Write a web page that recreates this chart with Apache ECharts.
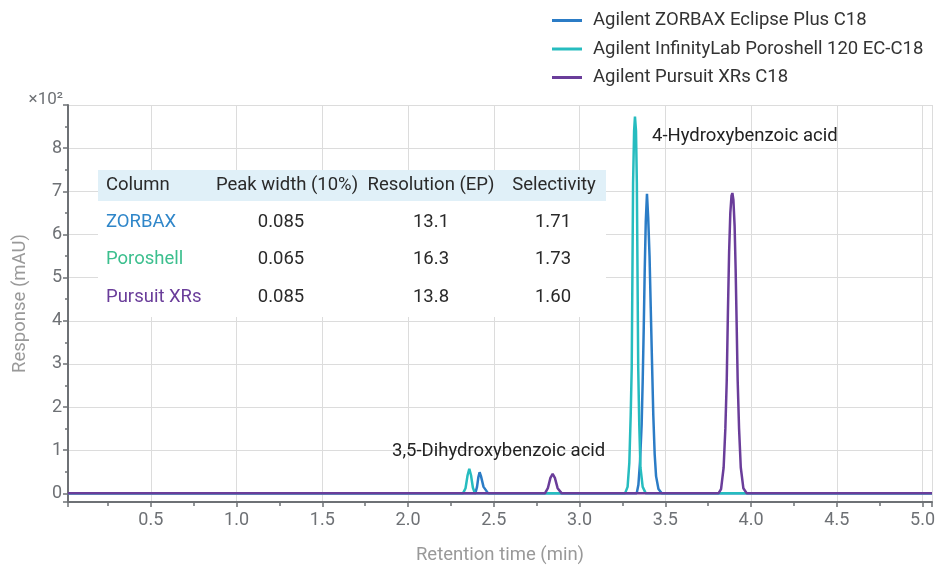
<!DOCTYPE html>
<html>
<head>
<meta charset="utf-8">
<script src="https://cdn.jsdelivr.net/npm/echarts@6/dist/echarts.min.js"></script>
<style>
  html, body { margin: 0; padding: 0; background: #fff; }
  #main { width: 937px; height: 565px; }
</style>
</head>
<body>
<div id="main"></div>
<script>
// 色谱数据 [保留时间 min, 响应 x10^2 mAU]
var seriesNames = ['Agilent ZORBAX Eclipse Plus C18', 'Agilent InfinityLab Poroshell 120 EC-C18', 'Agilent Pursuit XRs C18'];
var seriesColors = ['#2b7cc6', '#26bcbf', '#6a3d9a'];

var zorbaxPoints = [
    [0.017, 0], [2.392, 0], [2.402, 0.15], [2.41, 0.38], [2.417, 0.49], [2.425, 0.4], [2.44, 0.15], [2.467, 0],
    [3.333, 0], [3.343, 0.2], [3.352, 0.7], [3.362, 1.6], [3.368, 2.6], [3.374, 3.8], [3.38, 5.2], [3.386, 6.3],
    [3.393, 6.94], [3.4, 6.4], [3.408, 5.5], [3.415, 4.3], [3.422, 3.1], [3.43, 1.8], [3.438, 0.9], [3.446, 0.4],
    [3.46, 0.1], [3.479, 0], [5.055, 0]
];
var poroshellPoints = [
    [0.017, 0], [2.32, 0], [2.335, 0.12], [2.347, 0.42], [2.357, 0.57], [2.367, 0.42], [2.378, 0.13], [2.39, 0],
    [3.265, 0], [3.28, 0.15], [3.29, 0.7], [3.298, 1.8], [3.304, 2.9], [3.308, 5.0], [3.312, 7.2], [3.318, 8.4],
    [3.323, 8.73], [3.329, 8.4], [3.334, 7.2], [3.338, 5.0], [3.342, 2.9], [3.348, 1.6], [3.355, 0.6], [3.368, 0.15],
    [3.386, 0], [5.055, 0]
];
var pursuitPoints = [
    [0.017, 0], [2.798, 0], [2.815, 0.12], [2.83, 0.36], [2.843, 0.45], [2.856, 0.36], [2.872, 0.12], [2.896, 0],
    [3.81, 0], [3.825, 0.1], [3.84, 0.6], [3.85, 1.5], [3.858, 2.6], [3.865, 4.2], [3.872, 5.6], [3.879, 6.5],
    [3.886, 6.9], [3.891, 6.96], [3.897, 6.8], [3.904, 6.2], [3.91, 5.2], [3.916, 3.9], [3.922, 2.6], [3.93, 1.5],
    [3.94, 0.6], [3.955, 0.12], [3.975, 0], [5.055, 0]
];

// 表格
var tableHeader = ['Column', 'Peak width (10%)', 'Resolution (EP)', 'Selectivity'];
var tableColumns = ['ZORBAX', 'Poroshell', 'Pursuit XRs'];
var tablePeakWidth = ['0.085', '0.065', '0.085'];
var tableResolution = ['13.1', '16.3', '13.8'];
var tableSelectivity = ['1.71', '1.73', '1.60'];
var tableNameColors = ['#2f86c9', '#3cbf8e', '#6a3d9a'];

var peakLabels = ['4-Hydroxybenzoic acid', '3,5-Dihydroxybenzoic acid'];

var FONT = 'Roboto';
var axisGray = '#6e7175';

var myChart = echarts.init(document.getElementById('main'), null, { renderer: 'canvas' });

// 表格图形
var graphics = [];
var tx = 98, ty = 170, tw = 508;
graphics.push({ type: 'rect', z: 5, shape: { x: tx, y: ty, width: tw, height: 147 }, style: { fill: '#ffffff' } });
graphics.push({ type: 'rect', z: 6, shape: { x: tx, y: ty, width: tw, height: 31 }, style: { fill: '#e0f0f8' } });
var headX = [106, 287, 431, 554];
var cellX = [106, 281, 431, 553];
var colAlign = ['left', 'center', 'center', 'center'];
for (var c = 0; c < tableHeader.length; c++) {
    graphics.push({
        type: 'text', z: 7, x: headX[c], y: 185,
        style: { text: tableHeader[c], font: '18.5px ' + FONT, fill: '#2a2a2a', align: colAlign[c], verticalAlign: 'middle' }
    });
}
for (var r = 0; r < tableColumns.length; r++) {
    var yy = 222 + r * 37.5;
    var cells = [tableColumns[r], tablePeakWidth[r], tableResolution[r], tableSelectivity[r]];
    for (var c = 0; c < cells.length; c++) {
        graphics.push({
            type: 'text', z: 7, x: cellX[c], y: yy,
            style: { text: cells[c], font: '18.5px ' + FONT, fill: c == 0 ? tableNameColors[r] : '#2a2a2a', align: colAlign[c], verticalAlign: 'middle' }
        });
    }
}
// 峰标注
graphics.push({ type: 'text', z: 7, x: 652, y: 136, style: { text: peakLabels[0], font: '18.5px ' + FONT, fill: '#222', align: 'left', verticalAlign: 'middle' } });
graphics.push({ type: 'text', z: 7, x: 392, y: 451, style: { text: peakLabels[1], font: '18.5px ' + FONT, fill: '#222', align: 'left', verticalAlign: 'middle' } });
// 指数
graphics.push({ type: 'text', z: 7, x: 63, y: 100, style: { text: '×10²', font: '17px ' + FONT, fill: axisGray, align: 'right', verticalAlign: 'middle' } });

var allPoints = [zorbaxPoints, poroshellPoints, pursuitPoints];
var series = [];
for (var i = 0; i < seriesNames.length; i++) {
    series.push({
        name: seriesNames[i],
        type: 'line',
        data: allPoints[i],
        showSymbol: false,
        symbol: 'none',
        animation: false,
        lineStyle: { color: seriesColors[i], width: 2.5 },
        itemStyle: { color: seriesColors[i] },
        z: 2 + i
    });
}

var option = {
    animation: false,
    textStyle: { fontFamily: FONT },
    grid: { left: 68, right: 5, top: 105, bottom: 63, containLabel: false, outerBoundsMode: 'none' },
    legend: {
        orient: 'vertical',
        left: 547,
        top: 6,
        itemWidth: 30,
        itemHeight: 3,
        itemGap: 9.5,
        icon: 'rect',
        textStyle: { fontSize: 18.5, color: '#333', fontFamily: FONT, padding: [0, 0, 0, 6] },
        data: seriesNames
    },
    xAxis: {
        type: 'value',
        min: 0.017,
        max: 5.055,
        splitNumber: 10,
        name: 'Retention time (min)',
        nameLocation: 'middle',
        nameGap: 44,
        nameTextStyle: { fontSize: 18.5, color: '#999', fontFamily: FONT },
        axisLine: { onZero: false, lineStyle: { color: axisGray, width: 2 } },
        axisTick: { show: true, length: 5, lineStyle: { color: axisGray, width: 1.5 } },
        minorTick: { show: true, splitNumber: 2, length: 4, lineStyle: { color: axisGray, width: 1.5 } },
        axisLabel: {
            showMinLabel: false, showMaxLabel: false, fontSize: 18, color: axisGray, margin: 9,
            formatter: function(v) { return v.toFixed(1); }
        },
        splitLine: { show: true, lineStyle: { color: '#dcdcdc', width: 1 } }
    },
    yAxis: {
        type: 'value',
        min: -0.2,
        max: 9,
        splitNumber: 9,
        name: 'Response (mAU)',
        nameLocation: 'middle',
        nameGap: 38,
        nameTextStyle: { fontSize: 18.5, color: '#999', fontFamily: FONT },
        axisLine: { onZero: false, lineStyle: { color: axisGray, width: 2 } },
        axisTick: { show: true, length: 5, lineStyle: { color: axisGray, width: 1.5 } },
        minorTick: { show: true, splitNumber: 2, length: 3, lineStyle: { color: axisGray, width: 1.5 } },
        axisLabel: { showMinLabel: false, showMaxLabel: false, fontSize: 18, color: axisGray, margin: 6 },
        splitLine: { show: true, lineStyle: { color: '#dcdcdc', width: 1 } }
    },
    graphic: graphics,
    series: series
};

myChart.setOption(option);
</script>
</body>
</html>
